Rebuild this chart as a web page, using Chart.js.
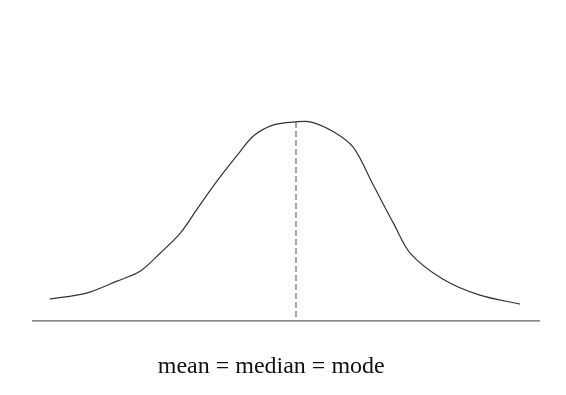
<!DOCTYPE html>
<html>
<head>
<meta charset="utf-8">
<script src="https://cdn.jsdelivr.net/npm/chart.js@4"></script>
<style>
  html, body { margin: 0; padding: 0; background: #fff; }
  #wrap { width: 566px; height: 395px; }
</style>
</head>
<body>
<div id="wrap"><canvas id="myChart"></canvas></div>
<script>
// distance from centre (in standard deviations) and relative height
const curveX = [-3.08, -2.62, -2.24, -1.95, -1.70, -1.45, -1.24, -1.03, -0.74, -0.53, -0.28, 0.00,
                0.18, 0.47, 0.72, 0.97, 1.22, 1.43, 1.84, 2.30, 2.80];
const curveY = [0.11, 0.14, 0.20, 0.25, 0.34, 0.44, 0.56, 0.68, 0.83, 0.93, 0.985, 1.00,
                1.00, 0.95, 0.87, 0.68, 0.49, 0.34, 0.21, 0.13, 0.085];

const centre = 0.0;          // mean = median = mode
const centreLow = 0.02;      // dashed line stops just above the axis
const centreHigh = 1.0;
const axisLabel = 'mean = median = mode';
const labelAt = -0.31;       // label sits a little left of the mean

const xMin = -3.29;
const xMax = 3.04;

// caption under the axis
const captionPlugin = {
    id: 'caption',
    afterDraw(chart) {
        const c = chart.ctx;
        const xs = chart.scales.x;
        c.save();
        c.font = '24px "Liberation Serif"';
        c.fillStyle = '#111';
        c.textAlign = 'center';
        c.textBaseline = 'middle';
        c.fillText(axisLabel, xs.getPixelForValue(labelAt), chart.chartArea.bottom + 46);
        c.restore();
    }
};

const ctx = document.getElementById('myChart');
const myChart = new Chart(ctx, {
    type: 'scatter',
    data: {
        datasets: [{
            data: curveX.map((x, i) => ({x: x, y: curveY[i]})),
            showLine: true,
            borderColor: '#333',
            borderWidth: 1.2,
            pointRadius: 0,
            tension: 0.3
        }, {
            data: [{x: centre, y: centreLow}, {x: centre, y: centreHigh}],
            showLine: true,
            borderColor: '#777',
            borderWidth: 1.3,
            borderDash: [6, 3],
            pointRadius: 0
        }]
    },
    options: {
        responsive: true,
        maintainAspectRatio: false,
        animation: false,
        layout: {
            padding: {left: 33, right: 27, top: 82, bottom: 74}
        },
        scales: {
            x: {
                type: 'linear',
                min: xMin,
                max: xMax,
                grid: { display: false, drawTicks: false },
                border: { color: '#8a8a8a', width: 1.8 },
                ticks: { display: false }
            },
            y: {
                display: false,
                min: 0,
                max: 1.2
            }
        },
        plugins: {
            legend: { display: false },
            tooltip: { enabled: false }
        }
    },
    plugins: [captionPlugin]
});
</script>
</body>
</html>
